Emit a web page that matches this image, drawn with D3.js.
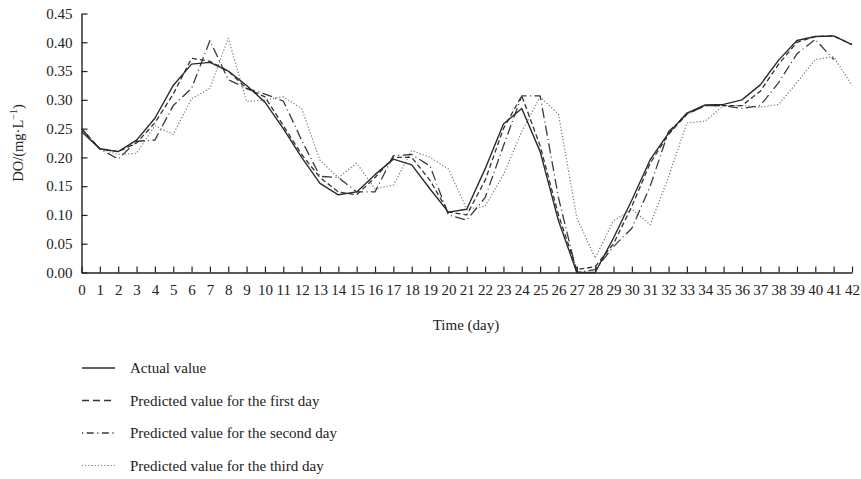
<!DOCTYPE html>
<html>
<head>
<meta charset="utf-8">
<script src="https://cdn.jsdelivr.net/npm/d3@7"></script>
<style>
  body { margin: 0; background: #fff; }
  text { font-family: "Liberation Serif", "DejaVu Serif", serif; fill: #222; }
</style>
</head>
<body>
<svg width="861" height="479"></svg>
<script>
// values
var days = d3.range(0, 43);
var actual = [0.245, 0.215, 0.21, 0.23, 0.268, 0.325, 0.362, 0.365, 0.35, 0.325, 0.296, 0.25, 0.2, 0.155, 0.135,
  0.14, 0.17, 0.197, 0.187, 0.145, 0.105, 0.11, 0.18, 0.258, 0.285, 0.21, 0.09, 0.0, 0.0, 0.06,
  0.126, 0.196, 0.242, 0.277, 0.291, 0.292, 0.3, 0.326, 0.369, 0.403, 0.41, 0.411, 0.396];
var firstDay = [0.25, 0.215, 0.21, 0.225, 0.26, 0.31, 0.372, 0.367, 0.35, 0.32, 0.305, 0.255, 0.205, 0.165, 0.14,
  0.135, 0.165, 0.2, 0.2, 0.16, 0.105, 0.1, 0.16, 0.25, 0.307, 0.22, 0.1, 0.005, 0.01, 0.05,
  0.115, 0.19, 0.24, 0.275, 0.29, 0.29, 0.29, 0.315, 0.362, 0.4, 0.41, 0.411, 0.396];
var secondDay = [0.25, 0.215, 0.197, 0.228, 0.23, 0.29, 0.32, 0.403, 0.335, 0.32, 0.31, 0.298, 0.23, 0.167, 0.165,
  0.14, 0.14, 0.203, 0.205, 0.185, 0.1, 0.091, 0.13, 0.22, 0.307, 0.307, 0.13, 0.0, 0.005, 0.045,
  0.077, 0.15, 0.245, 0.275, 0.29, 0.29, 0.285, 0.29, 0.33, 0.38, 0.405, 0.37, null];
var thirdDay = [0.245, 0.215, 0.205, 0.207, 0.255, 0.24, 0.302, 0.32, 0.407, 0.297, 0.3, 0.305, 0.285, 0.195, 0.165,
  0.19, 0.145, 0.152, 0.212, 0.2, 0.18, 0.11, 0.115, 0.17, 0.245, 0.305, 0.275, 0.095, 0.025, 0.09,
  0.11, 0.083, 0.166, 0.26, 0.263, 0.29, 0.29, 0.287, 0.292, 0.33, 0.37, 0.375, 0.325];
var yTicks = [0, 0.05, 0.1, 0.15, 0.2, 0.25, 0.3, 0.35, 0.4, 0.45];

var series = [
  { name: "Actual value", values: actual, dash: null, color: "#2b2b2b", width: 1.4 },
  { name: "Predicted value for the first day", values: firstDay, dash: "5,3", color: "#333", width: 1.3 },
  { name: "Predicted value for the second day", values: secondDay, dash: "10,3.5,1,3.5", color: "#3a3a3a", width: 1.3 },
  { name: "Predicted value for the third day", values: thirdDay, dash: "1.2,2", color: "#777", width: 1.2 }
];

var svg = d3.select("svg");

var x = d3.scaleLinear().domain([0, 42]).range([81.5, 852]);
var y = d3.scaleLinear().domain([0, 0.45]).range([272.5, 13.5]);

// axes
var xAxis = svg.append("g")
    .attr("transform", "translate(0," + y(0) + ")")
    .call(d3.axisBottom(x).tickValues(days).tickSize(-6).tickPadding(12).tickSizeOuter(0).tickFormat(d3.format("d")));
var yAxis = svg.append("g")
    .attr("transform", "translate(" + x(0) + ",0)")
    .call(d3.axisLeft(y).tickValues(yTicks).tickSize(-6).tickPadding(9).tickSizeOuter(0).tickFormat(d3.format(".2f")));

[xAxis, yAxis].forEach(function (a) {
    a.select(".domain").attr("stroke", "#222").attr("stroke-width", 1.4);
    a.selectAll(".tick line").attr("stroke", "#222").attr("stroke-width", 1.2);
    a.selectAll(".tick text").style("font-family", "Liberation Serif, serif")
        .style("font-size", "15px").attr("fill", "#222");
});

// axis titles
svg.append("text")
    .attr("x", 466).attr("y", 330)
    .attr("text-anchor", "middle")
    .style("font-size", "15px")
    .text("Time (day)");

var yt = svg.append("text")
    .attr("transform", "translate(23,143) rotate(-90)")
    .attr("text-anchor", "middle")
    .style("font-size", "14.5px");
yt.append("tspan").text("DO/(mg·L");
yt.append("tspan").attr("dy", -6).style("font-size", "10px").text("−1");
yt.append("tspan").attr("dy", 6).text(")");

// lines
var line = d3.line()
    .defined(function (d) { return d != null; })
    .x(function (d, i) { return x(days[i]); })
    .y(function (d) { return y(d); });

series.slice().reverse().forEach(function (s) {
    svg.append("path")
        .datum(s.values)
        .attr("fill", "none")
        .attr("stroke", s.color)
        .attr("stroke-width", s.width)
        .attr("stroke-dasharray", s.dash)
        .attr("stroke-linejoin", "round")
        .attr("d", line);
});

// legend
var legend = svg.append("g").attr("transform", "translate(82,368)");
series.forEach(function (s, i) {
    var g = legend.append("g").attr("transform", "translate(0," + (i * 32.5) + ")");
    g.append("line")
        .attr("x1", 0).attr("x2", 33)
        .attr("stroke", s.color)
        .attr("stroke-width", s.width)
        .attr("stroke-dasharray", i == 2 ? "1.2,3.5,7,3.5" : (i == 1 ? "7,4" : s.dash));
    g.append("text")
        .attr("x", 48).attr("y", 5)
        .style("font-size", "15px")
        .text(s.name);
});
</script>
</body>
</html>
